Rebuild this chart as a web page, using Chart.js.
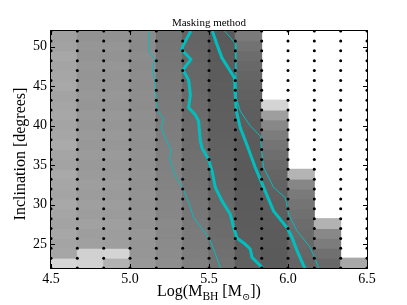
<!DOCTYPE html>
<html><head><meta charset="utf-8">
<script src="https://cdn.jsdelivr.net/npm/chart.js@4.4.0/dist/chart.umd.min.js"></script>
<style>html,body{margin:0;padding:0;background:#fff}</style>
</head><body>
<canvas id="c" width="407" height="305"></canvas>
<script>
// ---- data ----
const massEdges = [4.5, 4.6667, 4.8333, 5.0, 5.1667, 5.3333, 5.5, 5.6667, 5.8333, 6.0, 6.1667, 6.3333, 6.5];
const inclEdges = [22, 23.25, 24.5, 25.75, 27, 28.25, 29.5, 30.75, 32, 33.25, 34.5, 35.75, 37, 38.25, 39.5, 40.75, 42, 43.25, 44.5, 45.75, 47, 48.25, 49.5, 50.75, 52];
// grey level of each cell, per mass column, from lowest inclination row upwards
const cellGray = [
  [214,166,164,167,163,165,168,164,166,169,163,165,170,166,164,167,165,163,168,166,164,167,162,160],
  [210,209,160,158,161,157,159,156,158,155,153,155,152,154,151,153,150,152,150,149,151,148,150,147],
  [178,212,158,157,159,155,157,154,156,153,152,154,151,153,150,152,149,151,149,148,150,147,149,146],
  [152,150,149,150,147,148,146,147,145,146,144,145,143,144,142,143,141,142,140,141,139,140,138,139],
  [142,140,139,137,138,135,134,133,131,130,129,128,127,126,125,124,123,122,121,120,119,118,117,116],
  [128,126,124,123,121,119,118,117,115,114,113,112,110,109,108,107,106,105,104,103,103,102,101,100],
  [114,112,110,108,107,105,104,103,101,100,99,98,97,96,95,95,94,93,93,92,92,91,91,90],
  [96,95,94,93,92,92,91,91,90,90,90,91,91,92,93,94,95,97,99,101,104,108,114,122],
  [90,90,91,91,92,93,94,96,98,101,105,110,116,124,136,158,212],
  [100,102,104,106,108,112,116,122,134,180],
  [104,112,124,136,178],
  [168]
];
const xTickValues = [4.5, 5.0, 5.5, 6.0, 6.5];
const yTickValues = [25, 30, 35, 40, 45, 50];
// contour lines [logM, inclination]
const contourOuterLeft = [[5.118,52.0],[5.122,50.9],[5.118,49.4],[5.156,48.4],[5.143,47.1],[5.156,45.8],[5.165,43.5],[5.171,42.05],[5.213,40.9],[5.198,39.75],[5.223,38.5],[5.259,37.0],[5.251,35.75],[5.287,33.65],[5.333,32.2],[5.371,30.3],[5.403,28.4],[5.487,26.1],[5.508,25.45],[5.540,23.8],[5.572,22.0]];
const contourInnerLeft = [[5.385,52.0],[5.333,50.05],[5.329,49.6],[5.386,48.4],[5.335,47.1],[5.371,45.8],[5.382,43.9],[5.371,42.3],[5.413,41.4],[5.434,40.6],[5.445,38.1],[5.456,37.2],[5.497,35.75],[5.519,34.3],[5.540,32.2],[5.582,30.5],[5.635,28.8],[5.656,27.1],[5.677,25.8],[5.730,25.0],[5.761,24.4],[5.772,23.35],[5.825,22.3],[5.837,22.0]];
const contourInnerRight = [[5.521,52.0],[5.551,50.25],[5.582,48.6],[5.635,46.9],[5.662,46.05],[5.666,43.95],[5.673,41.85],[5.698,39.75],[5.730,38.1],[5.751,37.0],[5.793,34.7],[5.846,32.2],[5.909,29.2],[5.994,27.1],[6.025,25.9],[6.057,24.2],[6.099,22.3],[6.109,22.0]];
const contourOuterRight = [[5.598,52.0],[5.635,51.2],[5.666,50.4],[5.670,47.1],[5.673,43.5],[5.698,41.85],[5.761,40.0],[5.825,38.7],[5.831,37.2],[5.846,34.7],[5.909,32.2],[5.983,30.9],[6.004,28.8],[6.057,26.7],[6.141,24.6],[6.173,23.1],[6.194,22.0]];

// ---- build datasets ----
const cells = [], cellColors = [];
cellGray.forEach((col, c) => {
  col.forEach((g, r) => {
    cells.push({x: (massEdges[c] + massEdges[c + 1]) / 2, y: [inclEdges[r], inclEdges[r + 1]]});
    cellColors.push(`rgb(${g},${g},${g})`);
  });
});
const nodes = [];
massEdges.forEach(m => inclEdges.forEach(i => nodes.push({x: m, y: i})));
const toXY = arr => arr.map(p => ({x: p[0], y: p[1]}));
const CYAN = '#00bfbf';
const lineDs = (arr, w) => ({type: 'line', data: toXY(arr), borderColor: CYAN, borderWidth: w,
  pointRadius: 0, tension: 0, fill: false, clip: 0, order: 1, borderJoinStyle: 'round', borderCapStyle: 'butt'});

const SERIF = "'Liberation Serif', 'DejaVu Serif', serif";

const framePlugin = {
  id: 'frame',
  afterDatasetsDraw(chart) {
    const {ctx, chartArea: a, scales} = chart;
    ctx.save();
    ctx.strokeStyle = '#000';
    ctx.lineWidth = 1;
    ctx.beginPath();
    const tl = 4;
    scales.x.ticks.forEach(t => {
      const px = Math.round(scales.x.getPixelForValue(t.value)) + 0.5;
      ctx.moveTo(px, a.bottom); ctx.lineTo(px, a.bottom - tl);
      ctx.moveTo(px, a.top); ctx.lineTo(px, a.top + tl);
    });
    scales.y.ticks.forEach(t => {
      const py = Math.round(scales.y.getPixelForValue(t.value)) + 0.5;
      ctx.moveTo(a.left, py); ctx.lineTo(a.left + tl, py);
      ctx.moveTo(a.right, py); ctx.lineTo(a.right - tl, py);
    });
    ctx.stroke();
    ctx.strokeRect(a.left - 0.5, a.top - 0.5, a.right - a.left + 1, a.bottom - a.top + 1);
    ctx.restore();
  },
  afterDraw(chart) {
    const {ctx, chartArea: a} = chart;
    ctx.save();
    ctx.fillStyle = '#000';
    const cx = (a.left + a.right) / 2;
    // title
    ctx.font = `11px ${SERIF}`;
    ctx.textAlign = 'center';
    ctx.textBaseline = 'alphabetic';
    ctx.fillText('Masking method', cx, 26);
    // x label with subscripts
    const parts = [['Log(M', 16, 0], ['BH', 11.5, 4], [' [M', 16, 0], ['\u2299', 10, 4], ['])', 16, 0]];
    let total = 0;
    parts.forEach(p => { ctx.font = `${p[1]}px ${SERIF}`; p.w = ctx.measureText(p[0]).width; total += p.w; });
    let x = cx - total / 2;
    ctx.textAlign = 'left';
    parts.forEach(p => { ctx.font = `${p[1]}px ${SERIF}`; ctx.fillText(p[0], x, 295.5 + p[2]); x += p.w; });
    // y label
    ctx.translate(21, 154);
    ctx.rotate(-Math.PI / 2);
    ctx.font = `16px ${SERIF}`;
    ctx.textAlign = 'center';
    ctx.textBaseline = 'middle';
    ctx.fillText('Inclination [degrees]', 0, 0);
    ctx.restore();
  }
};

new Chart(document.getElementById('c'), {
  type: 'bar',
  data: {
    datasets: [
      {type: 'scatter', data: nodes, pointRadius: 1.5, pointBackgroundColor: '#000', pointBorderWidth: 0, clip: 0, order: 0},
      lineDs(contourOuterLeft, 1),
      lineDs(contourInnerLeft, 3),
      lineDs(contourInnerRight, 3),
      lineDs(contourOuterRight, 1),
      {type: 'bar', data: cells, backgroundColor: cellColors, borderWidth: 0, barPercentage: 1, categoryPercentage: 1,
        inflateAmount: 0.5, borderSkipped: false, clip: 0, order: 5}
    ]
  },
  options: {
    responsive: false, animation: false, devicePixelRatio: 1,
    layout: {padding: {top: 31, right: 40, left: 0, bottom: 0}},
    plugins: {legend: {display: false}, tooltip: {enabled: false}, title: {display: false}},
    scales: {
      x: {type: 'linear', min: 4.5, max: 6.5, offset: false,
        grid: {display: false, drawTicks: false}, border: {display: false},
        afterBuildTicks: s => { s.ticks = xTickValues.map(v => ({value: v})); },
        afterFit: s => { s.height = 37; },
        ticks: {font: {family: SERIF, size: 14}, color: '#000', padding: 3, maxRotation: 0, autoSkip: false,
          callback: v => Number(v).toFixed(1)}},
      y: {type: 'linear', min: 22, max: 52,
        grid: {display: false, drawTicks: false}, border: {display: false},
        afterBuildTicks: s => { s.ticks = yTickValues.map(v => ({value: v})); },
        afterFit: s => { s.width = 51; },
        ticks: {font: {family: SERIF, size: 14}, color: '#000', padding: 4, autoSkip: false,
          callback: v => String(v)}}
    }
  },
  plugins: [framePlugin]
});
</script>
</body></html>
